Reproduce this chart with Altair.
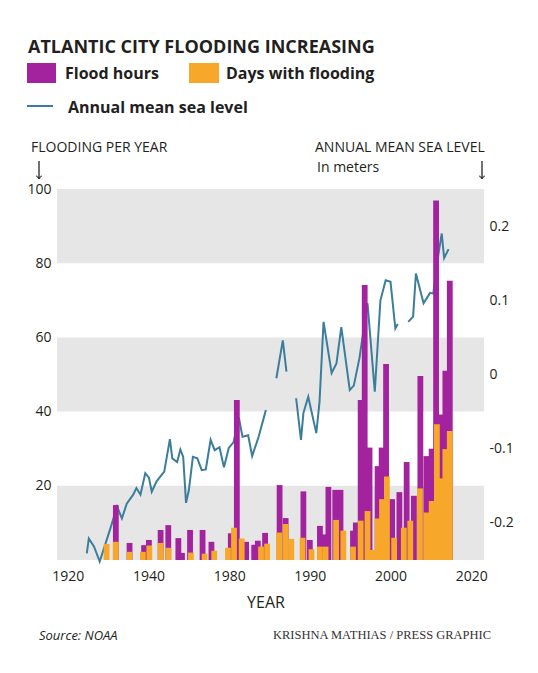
import altair as alt
import pandas as pd

# ---------------- data ----------------
band_low = [0, 40, 80]
band_high = [20, 60, 100]

x_tick_values = [1920, 1940, 1960, 1980, 2000, 2020]
x_tick_labels = ["1920", "1940", "1980", "1990", "2000", "2020"]
left_ticks = [20, 40, 60, 80, 100]
right_ticks = [-0.2, -0.1, 0, 0.1, 0.2]

line_year = [1924.7, 1925.2, 1926.5, 1927.9, 1929.4, 1930.8, 1932.2, 1933.4, 1934.6, 1936.2,
             1937.0, 1938.0, 1939.2, 1940.1, 1940.8, 1942.0, 1943.9, 1945.3, 1945.9, 1947.1,
             1947.9, 1948.6, 1949.3, 1950.0, 1951.0, 1952.1, 1953.2, 1954.2, 1955.4, 1956.4,
             1957.6, 1958.7, 1959.9, 1961.1, 1962.4, 1963.3, 1964.7, 1965.7, 1967.3, 1969.1,
             1971.7, 1973.3, 1974.2,
             1976.6, 1977.8, 1978.4, 1979.6, 1981.6, 1982.4, 1983.4, 1985.4, 1986.6, 1987.8,
             1989.9, 1990.9, 1992.3, 1994.3, 1996.1, 1997.5, 1998.8, 2000.0, 2001.2, 2001.8,
             2004.4, 2005.6, 2006.3, 2008.2, 2009.8, 2010.6, 2011.9, 2012.7, 2013.3, 2014.4]
sea_level = [-0.241, -0.221, -0.232, -0.252, -0.227, -0.203, -0.178, -0.194, -0.174, -0.162,
             -0.153, -0.162, -0.133, -0.139, -0.158, -0.144, -0.131, -0.087, -0.113, -0.118,
             -0.101, -0.111, -0.173, -0.156, -0.111, -0.113, -0.129, -0.128, -0.088, -0.102,
             -0.098, -0.125, -0.099, -0.091, -0.058, -0.084, -0.082, -0.110, -0.084, -0.048,
             -0.005, 0.046, 0.004,
             -0.032, -0.088, -0.052, -0.030, -0.079, -0.037, 0.071, 0.002, 0.015, 0.064,
             -0.021, -0.015, 0.022, 0.096, -0.023, 0.100, 0.127, 0.125, 0.062, 0.068,
             0.071, 0.078, 0.136, 0.096, 0.110, 0.109, 0.163, 0.190, 0.157, 0.169]
line_segment = [1] * 40 + [2] * 3 + [3] * 20 + [4] * 10

hours_year = [1931.9, 1935.3, 1938.9, 1940.1, 1943.0, 1944.9, 1947.4, 1948.3, 1950.3, 1953.4,
              1955.6, 1960.4, 1961.9, 1964.2, 1966.2, 1967.1, 1968.9, 1972.5, 1974.0, 1978.4,
              1980.0, 1982.5, 1983.4, 1984.6, 1986.3, 1987.6, 1990.7, 1991.4, 1992.6, 1993.6,
              1994.8, 1996.8, 1997.8, 1998.9, 2000.4, 2002.2, 2003.3, 2004.0, 2005.8, 2007.4,
              2008.9, 2010.2, 2011.3, 2012.5, 2013.6, 2014.7]
flood_hours = [14.8, 4.6, 4.0, 5.4, 8.1, 9.4, 5.9, 1.9, 8.1, 8.1,
               4.9, 7.2, 43.1, 4.9, 4.1, 5.2, 7.3, 20.2, 11.3, 18.5,
               5.4, 9.2, 6.9, 19.7, 18.9, 18.9, 7.9, 10.1, 43.1, 74.1,
               30.3, 25.3, 30.3, 52.8, 16.4, 18.3, 8.5, 26.4, 17.3, 49.6,
               28.0, 30.0, 96.9, 39.2, 51.0, 75.3]

days_year = [1929.6, 1931.9, 1935.3, 1938.6, 1940.2, 1943.0, 1944.9, 1950.5, 1953.9, 1956.3,
             1959.7, 1961.2, 1963.1, 1967.9, 1969.4, 1972.4, 1974.0, 1975.4, 1978.2, 1980.4,
             1982.5, 1983.9, 1986.5, 1988.3, 1990.7, 1992.6, 1994.3, 1995.4, 1996.8, 1997.9,
             1999.1, 2000.9, 2003.3, 2004.9, 2007.3, 2008.9, 2010.2, 2011.5, 2012.5, 2013.6,
             2014.7]
flood_days = [4.3, 4.9, 2.2, 2.2, 3.9, 4.6, 3.3, 2.0, 1.7, 2.5,
              3.3, 8.7, 5.8, 3.6, 4.4, 7.4, 9.7, 5.7, 6.0, 2.9,
              3.6, 3.6, 10.8, 7.9, 3.6, 10.6, 13.2, 2.7, 11.2, 16.4,
              22.5, 6.0, 8.7, 10.6, 19.3, 12.8, 15.9, 36.6, 22.0, 29.9,
              34.8]

title_text = "ATLANTIC CITY FLOODING INCREASING"
legend_labels = ["Flood hours", "Days with flooding", "Annual mean sea level"]
left_axis_title = "FLOODING PER YEAR"
right_axis_title = ["ANNUAL MEAN SEA LEVEL", "In meters"]
x_title = "YEAR"
source_text = "Source: NOAA"
credit_text = "KRISHNA MATHIAS / PRESS GRAPHIC"

# ---------------- styling ----------------
PURPLE = "#a3229d"
ORANGE = "#f7a72a"
TEAL = "#3b7e9b"
BAND = "#e6e6e6"
INK = "#231f20"
FONT = "Open Sans"
W, H = 427, 371
X_DOMAIN = [1918.55, 2021.94]

bands_df = pd.DataFrame({"low": band_low, "high": band_high})
line_df = pd.DataFrame({"year": line_year, "sea": sea_level, "seg": line_segment})
hours_df = pd.DataFrame({"year": hours_year, "hours": flood_hours})
days_df = pd.DataFrame({"year": days_year, "days": flood_days})

xscale = alt.Scale(domain=X_DOMAIN, nice=False, zero=False)
yscale = alt.Scale(domain=[0, 100], nice=False)

label_expr = "[" + ",".join("'%s'" % s for s in x_tick_labels) + "][indexof([" + \
    ",".join(str(v) for v in x_tick_values) + "], datum.value)]"

x_axis = alt.Axis(values=x_tick_values, labelExpr=label_expr, ticks=False, domain=False,
                  grid=False, labelFont=FONT, labelFontSize=14, labelColor=INK,
                  labelPadding=9, title=None)


def xenc():
    return alt.X("year:Q", scale=xscale, axis=x_axis)


bands = alt.Chart(bands_df).mark_rect(color=BAND).encode(
    x=alt.value(0), x2=alt.value(W),
    y=alt.Y("low:Q", scale=yscale,
            axis=alt.Axis(orient="left", values=left_ticks, ticks=False, domain=False, grid=False,
                          labelFont=FONT, labelFontSize=14, labelColor=INK, labelPadding=6,
                          title=None)),
    y2="high:Q",
)

line = alt.Chart(line_df).mark_line(color=TEAL, strokeWidth=2).encode(
    x=xenc(),
    y=alt.Y("sea:Q", scale=alt.Scale(domain=[-0.25, 0.25], nice=False, zero=False),
            axis=alt.Axis(orient="right", values=right_ticks, ticks=False, domain=False, grid=False,
                          labelExpr="datum.value == 0 ? '0' : '' + datum.value",
                          labelFont=FONT, labelFontSize=14, labelColor=INK, labelPadding=5,
                          title=None)),
    detail="seg:N",
)

hours = alt.Chart(hours_df).mark_bar(color=PURPLE, size=5.8).encode(
    x=xenc(),
    y=alt.Y("hours:Q", scale=yscale, axis=None),
)

days = alt.Chart(days_df).mark_bar(color=ORANGE, size=5.8).encode(
    x=xenc(),
    y=alt.Y("days:Q", scale=yscale, axis=None),
)


def text(t, x, y, size, weight="normal", style="normal", font=FONT, align="left", color=INK):
    return alt.Chart(pd.DataFrame({"t": [t]})).mark_text(
        align=align, baseline="alphabetic", font=font, fontSize=size,
        fontWeight=weight, fontStyle=style, color=color,
    ).encode(text="t:N", x=alt.value(x), y=alt.value(y))


def box(x, x2, y, y2, color):
    return alt.Chart(pd.DataFrame({"c": [color]})).mark_rect(color=color).encode(
        x=alt.value(x), x2=alt.value(x2), y=alt.value(y), y2=alt.value(y2))


def seg(x, x2, y, y2, color, width):
    return alt.Chart(pd.DataFrame({"c": [color]})).mark_rule(color=color, strokeWidth=width).encode(
        x=alt.value(x), x2=alt.value(x2), y=alt.value(y), y2=alt.value(y2))


def arrow(x):
    shaft = seg(x, x, -28, -10, "#111", 1.2)
    head = alt.Chart(pd.DataFrame({"c": [1]})).mark_point(
        shape="M -1 -1 L 0 0 L 1 -1", filled=False, size=30, strokeWidth=1.2, color="#111"
    ).encode(x=alt.value(x), y=alt.value(-10.5))
    return shaft + head


annotations = [
    text(title_text, -29, -136, 18, weight="bold"),
    box(-30, -1, -126, -106, PURPLE),
    text(legend_labels[0], 8, -110, 16, weight="bold"),
    box(132, 162, -126, -106, ORANGE),
    text(legend_labels[1], 169, -110, 16, weight="bold"),
    seg(-30, -4, -83, -83, TEAL, 2),
    text(legend_labels[2], 11, -76, 16, weight="bold"),
    text(left_axis_title, -26, -37, 14),
    arrow(-18),
    text(right_axis_title[0], 258, -37, 14),
    text(right_axis_title[1], 260, -17, 14),
    arrow(425),
    text(x_title, 209, 419, 16, align="center"),
    text(source_text, -18, 451, 13, style="italic"),
    text(credit_text, 216, 450, 12.5, font="Liberation Serif", color="#333333"),
]

chart = alt.layer(bands, line, hours, days, *annotations).resolve_scale(
    y="independent"
).properties(
    width=W, height=H,
    autosize=alt.AutoSizeParams(type="none"),
    padding={"left": 49, "top": 181, "right": 38, "bottom": 95},
    background="white",
).configure_view(stroke=None)

chart.save("out.html", embed_options={"renderer": "svg", "actions": False})
